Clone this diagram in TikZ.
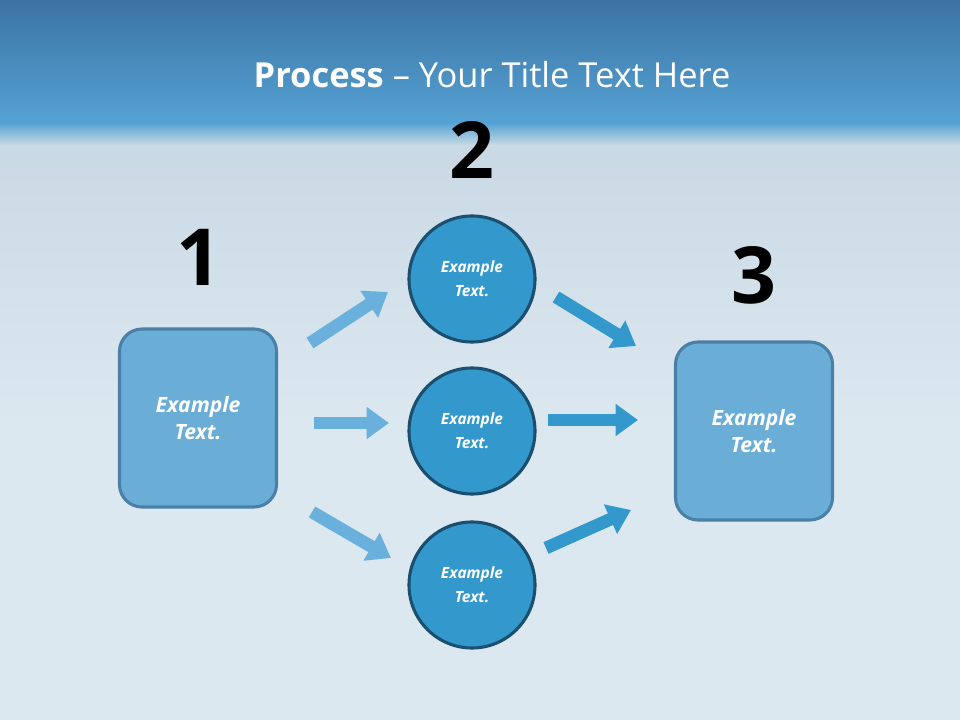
\documentclass[tikz,border=0pt]{standalone}
\usepackage{fontspec}
\setmainfont{Open Sans}
\usetikzlibrary{arrows.meta}
\definecolor{bandtop}{HTML}{3A74A4}
\definecolor{bandbot}{HTML}{56A2D4}
\definecolor{bglight}{HTML}{DCE8F0}
\definecolor{bgmid}{HTML}{C8D8E4}
\definecolor{boxfill}{HTML}{6AAED8}
\definecolor{boxline}{HTML}{4A80A8}
\definecolor{circfill}{HTML}{3399CC}
\definecolor{circline}{HTML}{1A4F70}
\definecolor{lightarr}{HTML}{6AB0DC}
\definecolor{darkarr}{HTML}{3399CC}
\tikzset{
  sqbox/.style={draw=boxline,line width=2.2pt,fill=boxfill,rounded corners=16pt,minimum width=157*0.025cm,minimum height=178*0.025cm,align=center,text=white,font=\bfseries\itshape\fontsize{15}{19}\selectfont},
  circ/.style={circle,draw=circline,line width=2.2pt,fill=circfill,minimum size=126*0.025cm,align=center,text=white,font=\bfseries\itshape\fontsize{11}{17}\selectfont},
  num/.style={font=\bfseries\fontsize{56}{60}\selectfont,text=black},
  arr/.style={line width=9pt,-{Triangle[length=16pt,width=22pt]}},
}
\begin{document}
\begin{tikzpicture}[x=0.025cm,y=-0.025cm]
\useasboundingbox (0,0) rectangle (960,720);
\shade[top color=bgmid,bottom color=bglight,middle color=bglight] (0,130) rectangle (960,720);
\shade[top color=bandtop,bottom color=bandbot] (0,0) rectangle (960,124);
\shade[top color=bandbot,bottom color=bgmid] (0,123) rectangle (960,145);
\node[text=white,font=\fontsize{24.5}{30}\selectfont] (title) at (492,75) {\textbf{Process} – Your Title Text Here};
\node[num] (n1) at (199,257) {1};
\node[num] (n2) at (472,150) {2};
\node[num] (n3) at (754,275) {3};
\node[sqbox] (b1) at (198,418) {Example\\Text.};
\node[sqbox] (b3) at (754,431) {Example\\Text.};
\node[circ] (c1) at (472,279) {Example\\Text.};
\node[circ] (c2) at (472,431) {Example\\Text.};
\node[circ] (c3) at (472,585) {Example\\Text.};
\coordinate (a1s) at (310,343); \coordinate (a1e) at (388,292);
\coordinate (a2s) at (314,423); \coordinate (a2e) at (389,423);
\coordinate (a3s) at (312,512); \coordinate (a3e) at (391,558);
\coordinate (d1s) at (556,297); \coordinate (d1e) at (636,346);
\coordinate (d2s) at (548,420); \coordinate (d2e) at (638,420);
\coordinate (d3s) at (546,548); \coordinate (d3e) at (631,510);
\draw[arr,lightarr] (a1s) -- (a1e);
\draw[arr,lightarr] (a2s) -- (a2e);
\draw[arr,lightarr] (a3s) -- (a3e);
\draw[arr,darkarr] (d1s) -- (d1e);
\draw[arr,darkarr] (d2s) -- (d2e);
\draw[arr,darkarr] (d3s) -- (d3e);
\end{tikzpicture}
\end{document}
